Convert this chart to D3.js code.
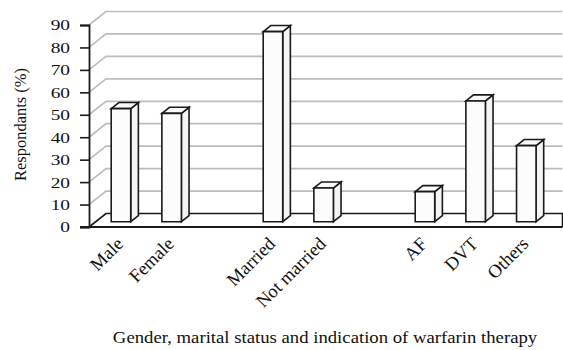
<!DOCTYPE html>
<html>
<head>
<meta charset="utf-8">
<script src="https://cdn.jsdelivr.net/npm/d3@7"></script>
<style>
  html, body { margin: 0; padding: 0; background: #fff; }
  svg { display: block; }
  text { font-family: "Liberation Serif", "Times New Roman", serif; fill: #111; }
</style>
</head>
<body>
<div id="chart"></div>
<script>
// Categories along the x axis (empty strings are spacer slots between groups)
const categories = ["Male", "Female", "", "Married", "Not married", "", "AF", "DVT", "Others"];
// Percentage of respondents for each category (null = spacer, no bar)
const values = [50.4, 48.3, null, 84.7, 15.0, null, 13.4, 53.8, 33.9];
// Y axis ticks
const yTicks = [0, 10, 20, 30, 40, 50, 60, 70, 80, 90];
const yTitle = "Respondants (%)";
const xTitle = "Gender, marital status and indication of warfarin therapy";

const W = 563, H = 350;
const svg = d3.select("#chart").append("svg").attr("width", W).attr("height", H);

// Oblique 3D projection: depth runs up and to the right
const DX = 17, DY = -13.5;
const x0 = 89, xFrontEnd = 545, xRight = 562.5;

const x = d3.scaleBand()
  .domain(d3.range(categories.length))
  .range([x0, xFrontEnd])
  .paddingInner(0.615)
  .paddingOuter(0.3075);

const y = d3.scaleLinear().domain([0, 90]).range([227, 25]);

// Project a front-plane point (px, py) back by depth fraction d
const P = (px, py, d) => [px + d * DX, py + d * DY];

// Gridlines: diagonal on the side wall, then horizontal along the back wall
const grid = svg.append("g");
yTicks.filter(t => t > 0).forEach(t => {
  const a = [x0, y(t)], b = P(x0, y(t), 1);
  grid.append("path")
    .attr("d", `M${a[0]},${a[1]}L${b[0]},${b[1]}L${xRight},${b[1]}`)
    .attr("fill", "none").attr("stroke", "#bdbdbd").attr("stroke-width", 1.7);
});

// Floor outline
const fb = P(x0, y(0), 1);
svg.append("path")
  .attr("d", `M${x0},${y(0)}L${fb[0]},${fb[1]}L${xRight},${fb[1]}L${xRight},${y(0)}`)
  .attr("fill", "none").attr("stroke", "#1a1a1a").attr("stroke-width", 1.6);

// Y axis with outward ticks
const yAxis = d3.axisLeft(y).tickValues(yTicks).tickSize(9).tickPadding(10).tickFormat(d3.format("d"));
const ga = svg.append("g").attr("transform", `translate(${x0},0)`).call(yAxis);
ga.select(".domain").attr("stroke", "#1a1a1a").attr("stroke-width", 1.8);
ga.selectAll(".tick line").attr("stroke", "#1a1a1a").attr("stroke-width", 1.6);
ga.selectAll(".tick text")
  .attr("x", 0)
  .attr("transform", "translate(-19,0) scale(1.25,1)")
  .style("font-family", '"Liberation Serif", "Times New Roman", serif')
  .style("font-size", "15.5px").attr("fill", "#111");

// Front edge of the floor
svg.append("line")
  .attr("x1", 80).attr("x2", xRight).attr("y1", y(0)).attr("y2", y(0))
  .attr("stroke", "#1a1a1a").attr("stroke-width", 2.2);

// 3D bars: front face, right side, top
const d0 = 0.39, d1 = 0.84;
const bars = svg.append("g");
values.forEach((v, i) => {
  if (v == null) return;
  const xl = x(i), xr = x(i) + x.bandwidth();
  const yb = y(0), yt = y(v);
  const f = [P(xl, yb, d0), P(xr, yb, d0), P(xr, yt, d0), P(xl, yt, d0)];
  const s = [P(xr, yb, d0), P(xr, yb, d1), P(xr, yt, d1), P(xr, yt, d0)];
  const t = [P(xl, yt, d0), P(xr, yt, d0), P(xr, yt, d1), P(xl, yt, d1)];
  const poly = pts => "M" + pts.map(p => p.join(",")).join("L") + "Z";
  [[s, "#f4f4f4"], [t, "#fafafa"], [f, "#fcfcfc"]].forEach(([pts, fill]) => {
    bars.append("path").attr("d", poly(pts))
      .attr("fill", fill).attr("stroke", "#1a1a1a")
      .attr("stroke-width", 1.6).attr("stroke-linejoin", "miter");
  });
});

// Rotated category labels
svg.append("g").selectAll("text")
  .data(categories.map((c, i) => ({ c, i })).filter(d => d.c))
  .join("text")
  .attr("transform", d => `translate(${x(d.i) + x.bandwidth() / 2 + 10},${245}) rotate(-45)`)
  .attr("text-anchor", "end")
  .style("font-size", "18.5px")
  .text(d => d.c);

// Axis titles
svg.append("text")
  .attr("transform", "translate(26,124.5) rotate(-90)")
  .attr("text-anchor", "middle")
  .style("font-size", "16.5px")
  .text(yTitle);

svg.append("text")
  .attr("transform", "translate(325,343) scale(1.17,1)")
  .attr("text-anchor", "middle")
  .style("font-size", "16px")
  .text(xTitle);
</script>
</body>
</html>
